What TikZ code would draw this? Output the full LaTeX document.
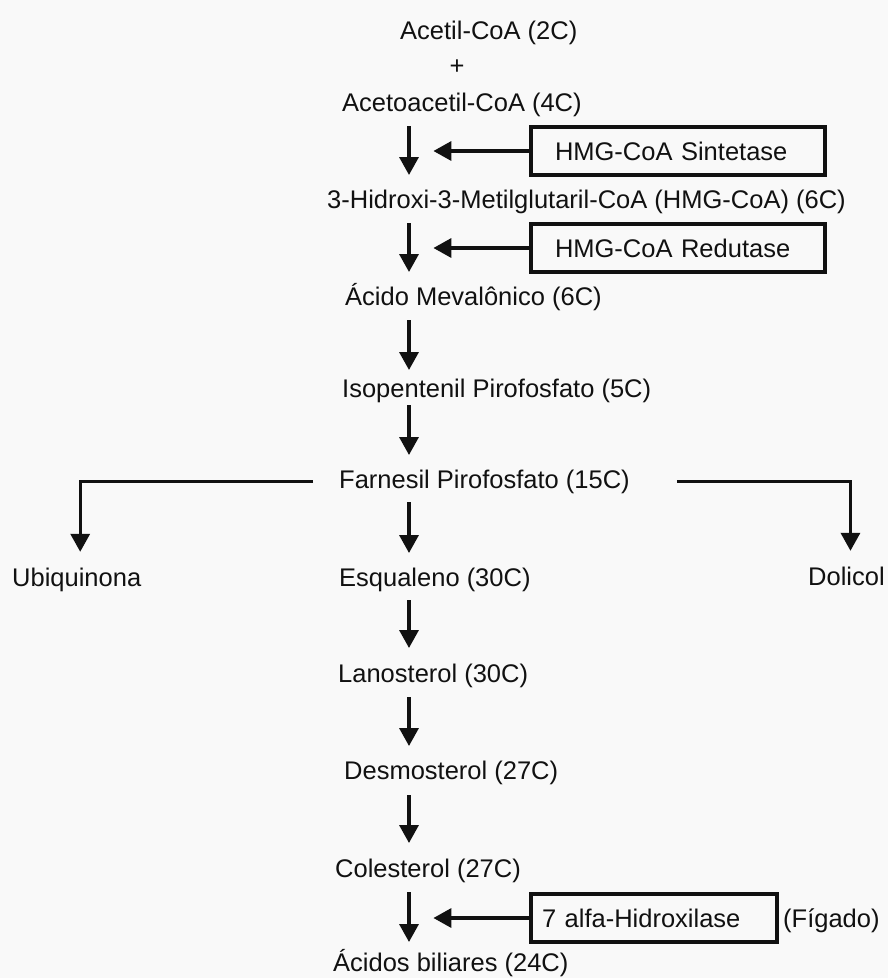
\documentclass[tikz,border=0pt]{standalone}
\usepackage{fontspec}
\setmainfont{Liberation Sans}
\usetikzlibrary{arrows.meta}
\definecolor{bg}{RGB}{249,249,249}
\definecolor{ink}{RGB}{17,17,17}
\begin{document}
\begin{tikzpicture}[x=1pt,y=-1pt,
  lbl/.style={inner sep=0pt, anchor=base west, text height=19pt, text depth=6pt,
              font=\fontsize{25.5pt}{30pt}\selectfont, text=ink},
  enz/.style={draw=ink, line width=3.2pt, minimum height=48pt, inner ysep=0pt,
              text height=18.3pt, text depth=0pt, align=left,
              font=\fontsize{25.5pt}{30pt}\selectfont, text=ink},
  arr/.style={draw=ink, line width=3.4pt, -{Triangle[length=18pt,width=19pt]}}]
\fill[bg] (0,0) rectangle (888,978);
\useasboundingbox (0,0) rectangle (888,978);
\coordinate (ax) at (409,0);
% texts
\node[lbl] (acetil) at (400,39) {Acetil-CoA (2C)};
\node[lbl, anchor=base] (plus) at (457,74) {+};
\node[lbl] (acetoac) at (342,111) {Acetoacetil-CoA (4C)};
\node[lbl] (hmg) at (327,208) {3-Hidroxi-3-Metilglutaril-CoA (HMG-CoA) (6C)};
\node[lbl] (meval) at (345,305) {Ácido Mevalônico (6C)};
\node[lbl] (ipp) at (342,397) {Isopentenil Pirofosfato (5C)};
\node[lbl] (farn) at (339,488) {Farnesil Pirofosfato (15C)};
\node[lbl] (ubi) at (12,586) {Ubiquinona};
\node[lbl] (esq) at (339,586) {Esqualeno (30C)};
\node[lbl] (dol) at (808,585) {Dolicol};
\node[lbl] (lano) at (338,682) {Lanosterol (30C)};
\node[lbl] (desmo) at (344,779) {Desmosterol (27C)};
\node[lbl] (col) at (335,877) {Colesterol (27C)};
\node[lbl] (bili) at (333,971) {Ácidos biliares (24C)};
\node[lbl] (figado) at (783,927) {(Fígado)};
% enzyme boxes
\node[enz, text width=246pt, inner xsep=24pt, minimum width=294pt] (b1) at (678,151) {HMG-CoA Sintetase};
\node[enz, text width=246pt, inner xsep=23pt, minimum width=294pt] (b2) at (678,248) {HMG-CoA Redutase};
\node[enz, text width=224pt, inner xsep=11pt, minimum width=246pt] (b3) at (654,918) {7 alfa-Hidroxilase};
% main chain arrows
\draw[arr] (acetoac.base -| ax) ++(0,15) -- ++(0,49);
\draw[arr] (hmg.base -| ax) ++(0,15) -- ++(0,49);
\draw[arr] (meval.base -| ax) ++(0,15) -- ++(0,50);
\draw[arr] (ipp.base -| ax) ++(0,8) -- ++(0,50);
\draw[arr] (farn.base -| ax) ++(0,14) -- ++(0,51);
\draw[arr] (esq.base -| ax) ++(0,14) -- ++(0,48);
\draw[arr] (lano.base -| ax) ++(0,15) -- ++(0,49);
\draw[arr] (desmo.base -| ax) ++(0,16) -- ++(0,48);
\draw[arr] (col.base -| ax) ++(0,15) -- ++(0,50);
% enzyme arrows
\draw[arr] (b1.west) -- ++(-96,0);
\draw[arr] (b2.west) -- ++(-96,0);
\draw[arr] (b3.west) -- ++(-96,0);
% branches
\draw[arr] ([xshift=-26pt]farn.west) -| ([xshift=3.5pt,yshift=15pt]ubi.north);
\draw[arr] ([xshift=47pt]farn.east) -| ([xshift=4pt,yshift=15pt]dol.north);
\end{tikzpicture}
\end{document}
